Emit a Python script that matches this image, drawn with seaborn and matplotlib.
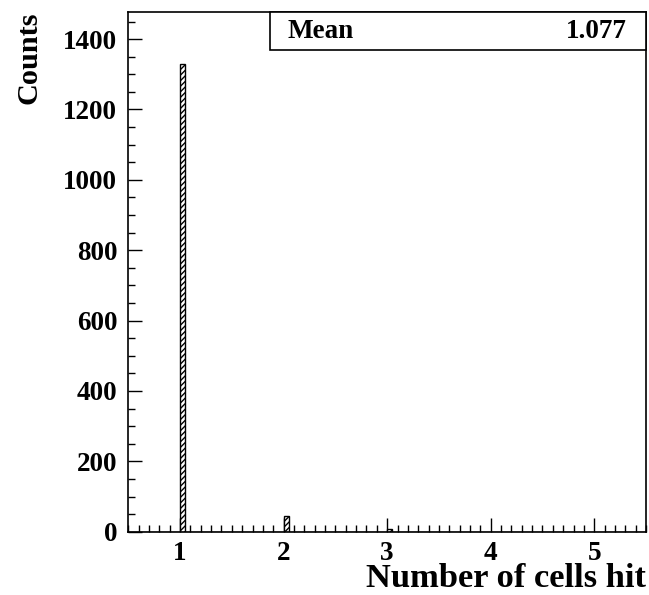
import numpy as np
import pandas as pd
import matplotlib
matplotlib.use("Agg")
import matplotlib.pyplot as plt
import seaborn as sns
from matplotlib.ticker import MultipleLocator

# Data
cells_hit = [1.0, 2.0, 3.0]          # bin left edges with entries
counts = [1330, 46, 7]               # entries per bin
x_ticks = [1, 2, 3, 4, 5]
y_ticks = [0, 200, 400, 600, 800, 1000, 1200, 1400]
mean_label = "Mean"
mean_value = "1.077"

sns.set_theme(style="white")
plt.rcParams["font.family"] = ["Liberation Serif", "DejaVu Serif"]
plt.rcParams["font.weight"] = "bold"
plt.rcParams["hatch.linewidth"] = 1.0
plt.rcParams["text.color"] = "black"
plt.rcParams["xtick.color"] = "black"
plt.rcParams["ytick.color"] = "black"

df = pd.DataFrame({"x": [c + 0.025 for c in cells_hit], "w": counts})

fig = plt.figure(figsize=(6.49, 5.95), dpi=100)
ax = fig.add_axes([0.1977, 0.1064, 0.9954 - 0.1977, 0.9798 - 0.1064])

sns.histplot(data=df, x="x", weights="w", binwidth=0.05, binrange=(0.5, 5.5), ax=ax,
             fill=True, color="white", edgecolor="black", linewidth=1.0,
             alpha=1.0)
for p in ax.patches:
    p.set_hatch("//////")
    p.set_facecolor("white")
    p.set_edgecolor("black")

ax.set_xlim(0.5, 5.5)
ax.set_ylim(0, 1477)
ax.set_xticks(x_ticks)
ax.set_xticklabels([str(t) for t in x_ticks])
ax.set_yticks(y_ticks)
ax.set_yticklabels([str(t) for t in y_ticks])
ax.xaxis.set_minor_locator(MultipleLocator(0.1))
ax.yaxis.set_minor_locator(MultipleLocator(50))

ax.tick_params(axis="both", which="major", direction="in", length=10, width=1.0,
               labelsize=19.5, top=False, right=False, bottom=True, left=True,
               color="black", labelcolor="black")
ax.tick_params(axis="both", which="minor", direction="in", length=5, width=1.0,
               top=False, right=False, bottom=True, left=True, color="black")
ax.tick_params(axis="x", which="major", pad=7)
ax.tick_params(axis="y", which="major", pad=8)
for lab in ax.get_xticklabels() + ax.get_yticklabels():
    lab.set_fontweight("bold")

for s in ax.spines.values():
    s.set_visible(True)
    s.set_color("black")
    s.set_linewidth(1.2)

ax.set_xlabel("")
ax.set_ylabel("")
fig.text(0.9954, 1 - 587 / 595, "Number of cells hit", ha="right", va="baseline",
         fontsize=24.8, fontweight="bold", color="black")
fig.text(15 / 649, 1 - 12 / 595, "Counts", ha="left", va="top", rotation=90,
         fontsize=21.8, fontweight="bold", color="black")

# Stats box
bx0 = 270 / 649
by0 = 1 - 50 / 595
box = plt.Rectangle((bx0, by0), 0.9954 - bx0, 0.9798 - by0, transform=fig.transFigure,
                    facecolor="white", edgecolor="black", linewidth=1.2, zorder=5)
fig.add_artist(box)
fig.text(288 / 649, 1 - 31 / 595, mean_label, ha="left", va="center",
         fontsize=19.5, fontweight="bold", zorder=6, color="black")
fig.text(627 / 649, 1 - 31 / 595, mean_value, ha="right", va="center",
         fontsize=19.5, fontweight="bold", zorder=6, color="black")

fig.savefig("out.png", dpi=100)
